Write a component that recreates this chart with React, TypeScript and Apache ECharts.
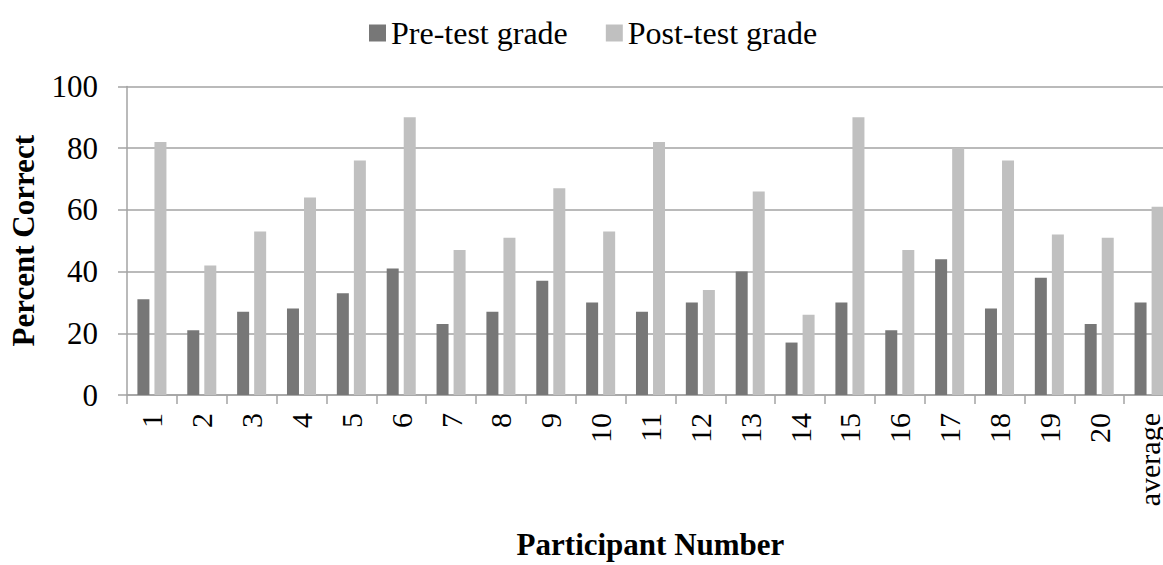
import React, { useEffect, useRef } from "react";
import * as echarts from "echarts";

const categories = ["1","2","3","4","5","6","7","8","9","10","11","12","13","14","15","16","17","18","19","20","average"];
const preTest = [31,21,27,28,33,41,23,27,37,30,27,30,40,17,30,21,44,28,38,23,30];
const postTest = [82,42,53,64,76,90,47,51,67,53,82,34,66,26,90,47,80,76,52,51,61];
const yTicks = { min: 0, max: 100, interval: 20 };

const FONT = "'Liberation Serif', 'Times New Roman', serif";
const GRID_COLOR = "#a3a3a3";

export default function App() {
  const ref = useRef<HTMLDivElement>(null);
  useEffect(() => {
    if (!ref.current) return;
    const chart = echarts.init(ref.current, undefined, { renderer: "svg" });
    chart.setOption({
      animation: false,
      backgroundColor: "#ffffff",
      textStyle: { fontFamily: FONT },
      legend: {
        left: 369,
        top: 17,
        padding: 0,
        itemWidth: 17,
        itemHeight: 17,
        itemGap: 38,
        icon: "rect",
        textStyle: { fontFamily: FONT, fontSize: 32, color: "#000" },
        data: ["Pre-test grade", "Post-test grade"],
      },
      grid: { left: 125, right: 1, top: 86.5, bottom: 165.7, containLabel: false },
      xAxis: {
        type: "category",
        data: categories,
        boundaryGap: true,
        name: "Participant Number",
        nameLocation: "middle",
        nameGap: 134,
        nameTextStyle: { fontFamily: FONT, fontSize: 31, fontWeight: "bold", color: "#000" },
        axisLine: { lineStyle: { color: GRID_COLOR, width: 1.5 } },
        axisTick: { show: true, length: 9, inside: false, lineStyle: { color: GRID_COLOR, width: 1.5 } },
        axisLabel: { rotate: 90, margin: 18, interval: 0, fontFamily: FONT, fontSize: 30, lineHeight: 26, color: "#000" },
      },
      yAxis: {
        type: "value",
        min: yTicks.min,
        max: yTicks.max,
        interval: yTicks.interval,
        name: "Percent Correct",
        nameLocation: "middle",
        nameGap: 88,
        nameRotate: 90,
        nameTextStyle: { fontFamily: FONT, fontSize: 31, fontWeight: "bold", color: "#000" },
        axisLine: { show: true, lineStyle: { color: GRID_COLOR, width: 1.5 } },
        axisTick: { show: true, length: 9, inside: false, lineStyle: { color: GRID_COLOR, width: 1.5 } },
        axisLabel: { margin: 29, fontFamily: FONT, fontSize: 31, color: "#000" },
        splitLine: { show: true, lineStyle: { color: GRID_COLOR, width: 1.5 } },
      },
      series: [
        {
          name: "Pre-test grade",
          type: "bar",
          data: preTest,
          barWidth: 12,
          barGap: "42%",
          itemStyle: { color: "#777777" },
        },
        {
          name: "Post-test grade",
          type: "bar",
          data: postTest,
          barWidth: 12,
          itemStyle: { color: "#c0c0c0" },
        },
      ],
    });
    return () => chart.dispose();
  }, []);
  return (
    <div style={{ position: "absolute", left: 0, top: 0, width: 1163, height: 565, overflow: "hidden", background: "#fff" }}>
      <div ref={ref} style={{ width: 1175, height: 565 }} />
    </div>
  );
}
